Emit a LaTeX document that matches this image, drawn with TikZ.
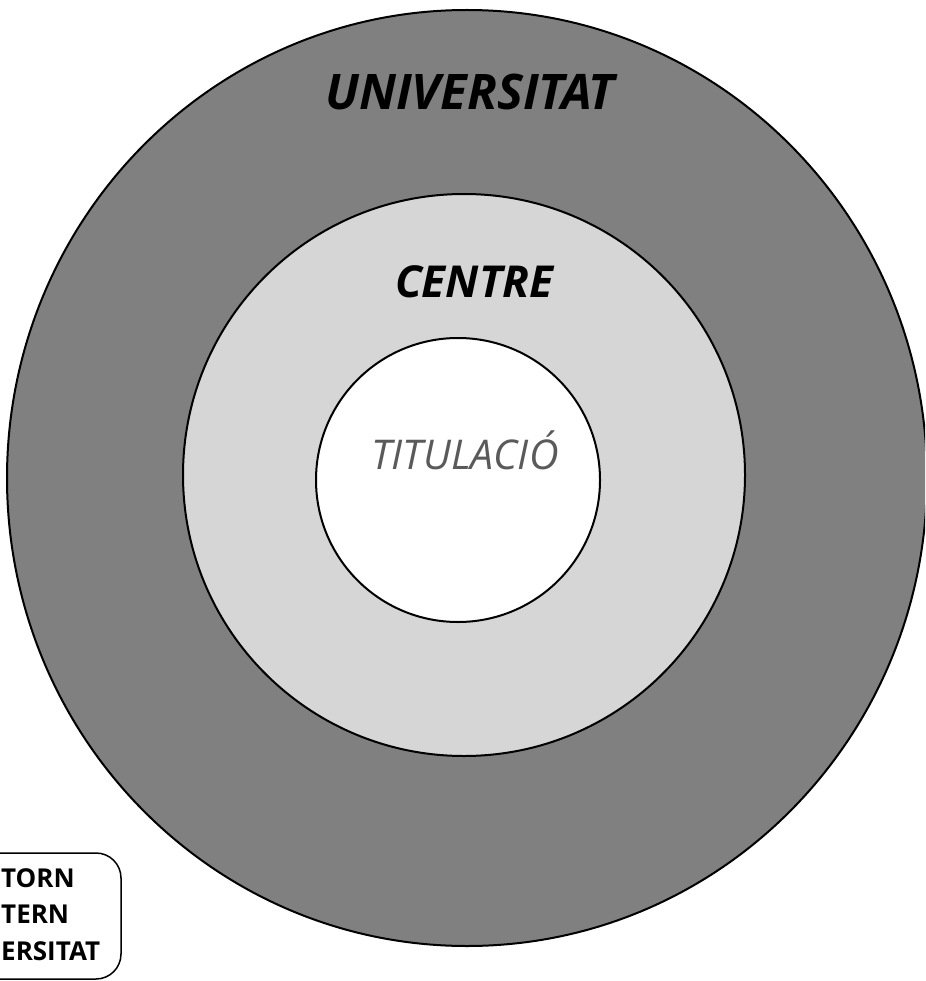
\documentclass[tikz,border=0pt]{standalone}
\usepackage{fontspec}
\setmainfont{Open Sans}
\definecolor{ringdark}{RGB}{128,128,128}
\definecolor{ringlight}{RGB}{214,214,214}
\definecolor{titgray}{RGB}{90,90,90}
\tikzset{
  ringline/.style={draw=black, line width=2pt},
  biglabel/.style={font=\fontsize{49}{55}\selectfont\bfseries\itshape, text=black, inner sep=0pt},
  midlabel/.style={font=\fontsize{44}{50}\selectfont\bfseries\itshape, text=black, inner sep=0pt},
  smalllabel/.style={font=\fontsize{41}{47}\selectfont\itshape, text=titgray, inner sep=0pt},
  legendtext/.style={font=\fontsize{26}{30}\selectfont\bfseries, inner sep=0pt, anchor=base west},
  legendbox/.style={draw=black, line width=1.5pt, rounded corners=25pt}
}
\begin{document}
\begin{tikzpicture}[x=1pt,y=-1pt]
\useasboundingbox (0,0) rectangle (925,981);
\clip (0,0) rectangle (925,981);
\fill[white] (0,0) rectangle (925,981);
% rings
\filldraw[ringline, fill=ringdark] (467,478) ellipse [x radius=460, y radius=468];
\filldraw[ringline, fill=ringlight] (464,475) circle [radius=281];
\filldraw[ringline, fill=white] (458,480) circle [radius=142];
% labels
\node[biglabel] (univ) at (470,92) {UNIVERSITAT};
\node[midlabel] (centre) at (474,282) {CENTRE};
\node[smalllabel] (titul) at (465,450) {TITULACIÓ};
% legend
\draw[legendbox] (-60,853) rectangle (121,979);
\node[legendtext] (leg1) at (1,887) {TORN};
\node[legendtext] (leg2) at (1,923) {TERN};
\node[legendtext] (leg3) at (1,960) {ERSITAT};
\end{tikzpicture}
\end{document}
